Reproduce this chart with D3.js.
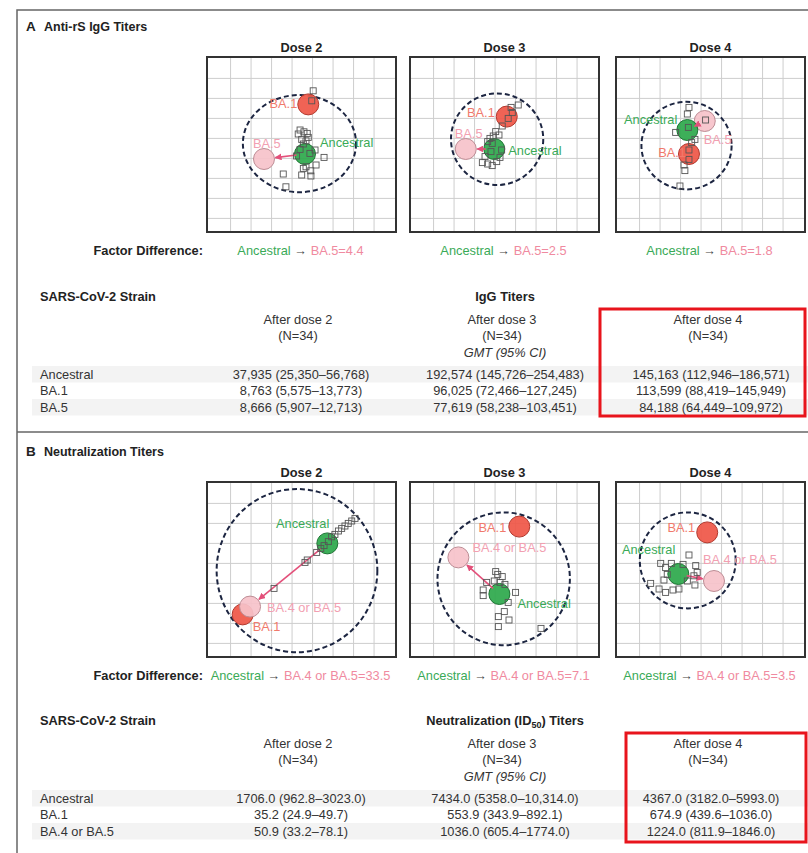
<!DOCTYPE html>
<html><head><meta charset="utf-8">
<script src="https://cdn.jsdelivr.net/npm/d3@7"></script>
<style>
body{margin:0;background:#fff}
svg text{font-family:"Liberation Sans",Arial,sans-serif;font-size:12.8px;fill:#333}
</style></head><body><script>
// ---- data ----
const doses = ['Dose 2', 'Dose 3', 'Dose 4']
const afterDose = ['After dose 2', 'After dose 3', 'After dose 4']
const strainsA = ['Ancestral', 'BA.1', 'BA.5']
const strainsB = ['Ancestral', 'BA.1', 'BA.4 or BA.5']
const factorA = ['4.4', '2.5', '1.8']
const factorB = ['33.5', '7.1', '3.5']

// GMT (95% CI), rows = strain, cols = dose
const iggTiters = [
  ['37,935 (25,350–56,768)', '192,574 (145,726–254,483)', '145,163 (112,946–186,571)'],
  ['8,763 (5,575–13,773)', '96,025 (72,466–127,245)', '113,599 (88,419–145,949)'],
  ['8,666 (5,907–12,713)', '77,619 (58,238–103,451)', '84,188 (64,449–109,972)']
]
const neutTiters = [
  ['1706.0 (962.8–3023.0)', '7434.0 (5358.0–10,314.0)', '4367.0 (3182.0–5993.0)'],
  ['35.2 (24.9–49.7)', '553.9 (343.9–892.1)', '674.9 (439.6–1036.0)'],
  ['50.9 (33.2–78.1)', '1036.0 (605.4–1774.0)', '1224.0 (811.9–1846.0)']
]

// antigenic map coordinates (grid units), per dose: [Ancestral, BA.1, BA.5 / BA.4-5]
const iggAntigens = [
  [[3.63, 3.78], [3.79, 1.30], [1.63, 4.03]],
  [[2.96, 3.53], [3.57, 1.91], [1.57, 3.53]],
  [[2.33, 2.58], [2.41, 3.78], [3.18, 2.13]]
]
const neutAntigens = [
  [[4.72, 2.00], [0.59, 5.55], [0.95, 5.16]],
  [[3.21, 4.53], [4.18, 1.16], [1.21, 2.70]],
  [[1.89, 3.53], [3.30, 1.45], [3.63, 3.88]]
]
// serum radius rings [cx, cy, rx, ry]
const iggRings = [[3.36, 3.26, 2.76, 2.43], [3.10, 3.04, 2.25, 2.29], [2.29, 3.36, 2.20, 2.19]]
const neutRings = [[3.24, 3.36, 3.92, 4.08], [3.42, 3.77, 3.23, 3.32], [2.35, 2.85, 2.34, 2.40]]

// individual sera
const iggSera = [
  [[4.03,0.62],[3.96,1.12],[3.39,2.58],[3.58,2.67],[3.74,2.75],[3.30,2.78],[3.79,2.95],[3.47,3.05],[3.68,3.12],[3.55,3.28],[3.39,3.55],[4.12,3.58],[3.87,3.75],[4.56,3.95],[3.22,3.88],[4.17,4.33],[3.68,4.42],[3.55,4.50],[3.91,4.62],[3.47,4.83],[3.92,4.88],[2.57,4.78],[2.70,5.42]],
  [[4.13,1.33],[3.78,1.45],[3.84,1.71],[3.64,2.00],[3.35,2.38],[3.03,2.66],[3.19,2.83],[2.91,2.88],[2.75,3.00],[2.64,3.16],[2.86,3.25],[3.32,3.58],[2.80,3.66],[2.51,3.91],[2.38,4.21],[2.64,4.28],[2.86,4.36],[3.08,4.16],[3.24,3.95]],
  [[2.41,1.45],[2.33,1.78],[1.76,2.70],[2.70,3.05],[2.54,3.21],[2.41,3.58],[2.41,4.05],[2.17,4.33],[2.21,4.61],[1.97,5.38],[3.22,2.08],[2.38,2.45]]
]
const neutSera = [
  [[6.07,0.75],[5.91,0.88],[5.74,1.00],[5.58,1.13],[5.42,1.25],[5.26,1.38],[5.09,1.55],[4.93,1.67],[4.77,1.91],[4.56,2.11],[4.40,2.25],[4.20,2.45],[3.74,2.83],[3.63,2.95],[2.12,4.25]],
  [[3.13,3.55],[3.35,3.66],[2.96,3.88],[3.24,3.95],[2.59,3.95],[3.48,4.05],[2.42,4.33],[2.42,4.61],[4.00,4.45],[3.64,4.95],[3.45,5.41],[3.16,5.66],[3.68,5.83],[3.16,6.16],[5.24,6.25],[3.03,3.41]],
  [[2.41,2.58],[1.03,3.00],[1.27,3.21],[1.55,3.00],[2.12,3.05],[2.74,3.11],[2.81,3.45],[1.35,3.55],[2.65,3.62],[1.19,3.83],[0.54,4.00],[2.70,4.08],[0.95,4.28],[1.27,4.45],[1.63,4.33],[1.92,4.28],[2.33,3.88]]
]

// ---- layout ----
const width = 808
const height = 853
const boxW = 189
const boxH = 175
const boxLeft = [207, 410, 616]
const colX = [300, 504, 710]
const antigenR = 10.5
const fillC = ['#2ca84b', '#ef5647', '#f6c2ca']
const strokeC = ['#1f7435', '#b2392e', '#bd8d95']
const labelC = ['#3aaa57', '#f07a6c', '#f2a0b1']
// label offsets [dx, dy, anchor] for Ancestral, BA.1, BA.5
const iggLabels = [
  [[15, -7, 'start'], [-11, 4, 'end'], [-11, -11, 'start']],
  [[14, 6, 'start'], [-12, 0, 'end'], [-11, -11, 'start']],
  [[-10, -6, 'end'], [-3, 3, 'end'], [-1, 23, 'start']]
]
const neutLabels = [
  [[2, -15, 'end'], [10, 17, 'start'], [17, 5, 'start']],
  [[18, 14, 'start'], [-13, 5, 'end'], [14, -5, 'start']],
  [[-3, -20, 'end'], [-12, 0, 'end'], [-11, -17, 'start']]
]

const svg = d3.select('body').append('svg')
  .attr('width', width)
  .attr('height', height)

svg.append('defs').append('marker')
  .attr('id', 'arrow')
  .attr('viewBox', '0 0 8 8')
  .attr('refX', 7).attr('refY', 4)
  .attr('markerWidth', 7).attr('markerHeight', 7)
  .attr('markerUnits', 'userSpaceOnUse')
  .attr('orient', 'auto')
  .append('path').attr('d', 'M0,0 L8,4 L0,8 z').attr('fill', '#e3507a')

//frame
svg.append('path')
  .attr('d', 'M17,853 V10 H808')
  .attr('fill', 'none').attr('stroke', '#666').attr('stroke-width', 1.5)
svg.append('line')
  .attr('x1', 17).attr('x2', 808).attr('y1', 432).attr('y2', 432)
  .attr('stroke', '#666').attr('stroke-width', 1.5)

const drawMap = (left, top, antigens, sera, ring, strains, labels) => {
  const g = svg.append('g')
  const x = d3.scaleLinear().domain([-1.15, 8.07]).range([left, left + boxW])
  const y = d3.scaleLinear().domain([-1.07, 7.68]).range([top, top + boxH])

  g.selectAll('line.v').data(d3.range(0, 8)).join('line')
    .attr('class', 'v')
    .attr('x1', d => x(d)).attr('x2', d => x(d))
    .attr('y1', top).attr('y2', top + boxH)
    .attr('stroke', '#cdcdcd')
  g.selectAll('line.h').data(d3.range(0, 8)).join('line')
    .attr('class', 'h')
    .attr('y1', d => y(d)).attr('y2', d => y(d))
    .attr('x1', left).attr('x2', left + boxW)
    .attr('stroke', '#cdcdcd')

  g.append('ellipse')
    .attr('cx', x(ring[0])).attr('cy', y(ring[1]))
    .attr('rx', x(ring[2]) - x(0)).attr('ry', y(ring[3]) - y(0))
    .attr('fill', 'none').attr('stroke', '#1c2541')
    .attr('stroke-width', 2).attr('stroke-dasharray', '5,3')

  // circles: BA.1 first, then BA.5, ancestral on top
  g.selectAll('circle').data([1, 2, 0]).join('circle')
    .attr('cx', i => x(antigens[i][0])).attr('cy', i => y(antigens[i][1]))
    .attr('r', antigenR)
    .attr('fill', i => fillC[i]).attr('stroke', i => strokeC[i])
    .attr('fill-opacity', 0.92)

  // arrow ancestral -> BA.5
  const ax = x(antigens[0][0]), ay = y(antigens[0][1])
  const bx = x(antigens[2][0]), by = y(antigens[2][1])
  const len = Math.hypot(bx - ax, by - ay)
  const ux = (bx - ax) / len, uy = (by - ay) / len
  g.append('line')
    .attr('x1', ax + ux * (antigenR - 2)).attr('y1', ay + uy * (antigenR - 2))
    .attr('x2', bx - ux * (antigenR + 1)).attr('y2', by - uy * (antigenR + 1))
    .attr('stroke', '#e3507a').attr('stroke-width', 1.6)
    .attr('marker-end', 'url(#arrow)')

  g.selectAll('rect.serum').data(sera).join('rect')
    .attr('class', 'serum')
    .attr('x', d => x(d[0]) - 3).attr('y', d => y(d[1]) - 3)
    .attr('width', 6).attr('height', 6)
    .attr('fill', 'none').attr('stroke', '#555').attr('stroke-width', 0.9)

  g.selectAll('text.lab').data([0, 1, 2]).join('text')
    .attr('class', 'lab')
    .attr('x', i => x(antigens[i][0]) + labels[i][0])
    .attr('y', i => y(antigens[i][1]) + labels[i][1])
    .attr('text-anchor', i => labels[i][2])
    .style('fill', i => labelC[i])
    .text(i => strains[i])

  g.append('rect')
    .attr('x', left).attr('y', top).attr('width', boxW).attr('height', boxH)
    .attr('fill', 'none').attr('stroke', '#333').attr('stroke-width', 2)
}

const drawPanel = (opt) => {
  const { top, letter, title, antigens, sera, rings, strains, labels, factors, tableTop, heading, titers, redRect } = opt
  svg.append('text').attr('x', 26).attr('y', top - 26)
    .style('font-weight', 'bold').style('font-size', '13.5px').style('fill', '#222').text(letter)
  svg.append('text').attr('x', 44).attr('y', top - 26)
    .style('font-weight', 'bold').style('font-size', '12.5px').style('fill', '#222').text(title)

  doses.forEach((d, i) => {
    svg.append('text').attr('x', boxLeft[i] + boxW / 2).attr('y', top - 5)
      .attr('text-anchor', 'middle').style('font-weight', 'bold').style('fill', '#222').text(d)
    drawMap(boxLeft[i], top, antigens[i], sera[i], rings[i], strains, labels[i])
    const t = svg.append('text').attr('x', boxLeft[i] + boxW / 2 - 1).attr('y', top + boxH + 23)
      .attr('text-anchor', 'middle')
    t.append('tspan').style('fill', '#3aaa57').text('Ancestral')
    t.append('tspan').style('fill', '#444').text(' → ')
    t.append('tspan').style('fill', '#f08aa0').text(strains[2] + '=' + factors[i])
  })
  svg.append('text').attr('x', 203).attr('y', top + boxH + 23)
    .attr('text-anchor', 'end').style('font-weight', 'bold').style('fill', '#222')
    .text('Factor Difference:')

  // table
  const rowY = [tableTop + 77, tableTop + 93, tableTop + 110]
  svg.selectAll(null).data([0, 2]).join('rect')
    .attr('x', 32).attr('width', 776)
    .attr('y', i => rowY[i] - 12).attr('height', 16.5)
    .attr('fill', '#f3f3f3')

  svg.append('text').attr('x', 40).attr('y', tableTop)
    .style('font-weight', 'bold').style('fill', '#222').text('SARS-CoV-2 Strain')
  heading(svg.append('text').attr('x', 505).attr('y', tableTop)
    .attr('text-anchor', 'middle').style('font-weight', 'bold').style('fill', '#222'))

  afterDose.forEach((d, i) => {
    svg.append('text').attr('x', colX[i] - 2).attr('y', tableTop + 23)
      .attr('text-anchor', 'middle').text(d)
    svg.append('text').attr('x', colX[i] - 2).attr('y', tableTop + 39)
      .attr('text-anchor', 'middle').text('(N=34)')
  })
  svg.append('text').attr('x', 505).attr('y', tableTop + 56)
    .attr('text-anchor', 'middle').style('font-style', 'italic').text('GMT (95% CI)')

  strains.forEach((s, r) => {
    svg.append('text').attr('x', 40).attr('y', rowY[r] + 1).text(s)
    titers[r].forEach((v, c) => {
      svg.append('text').attr('x', colX[c] + 1).attr('y', rowY[r] + 1)
        .attr('text-anchor', 'middle').text(v)
    })
  })

  svg.append('rect')
    .attr('x', redRect[0]).attr('y', redRect[1]).attr('width', redRect[2]).attr('height', redRect[3])
    .attr('fill', 'none').attr('stroke', '#e8141c').attr('stroke-width', 3)
}

drawPanel({
  top: 57, letter: 'A', title: 'Anti-rS IgG Titers',
  antigens: iggAntigens, sera: iggSera, rings: iggRings,
  strains: strainsA, labels: iggLabels, factors: factorA,
  tableTop: 301, titers: iggTiters,
  heading: t => t.text('IgG Titers'),
  redRect: [600, 309, 205, 107]
})

drawPanel({
  top: 482, letter: 'B', title: 'Neutralization Titers',
  antigens: neutAntigens, sera: neutSera, rings: neutRings,
  strains: strainsB, labels: neutLabels, factors: factorB,
  tableTop: 725, titers: neutTiters,
  heading: t => {
    t.append('tspan').text('Neutralization (ID')
    t.append('tspan').attr('dy', 3).style('font-size', '9px').text('50')
    t.append('tspan').attr('dy', -3).text(') Titers')
  },
  redRect: [626, 733, 180, 109]
})
</script></body></html>
